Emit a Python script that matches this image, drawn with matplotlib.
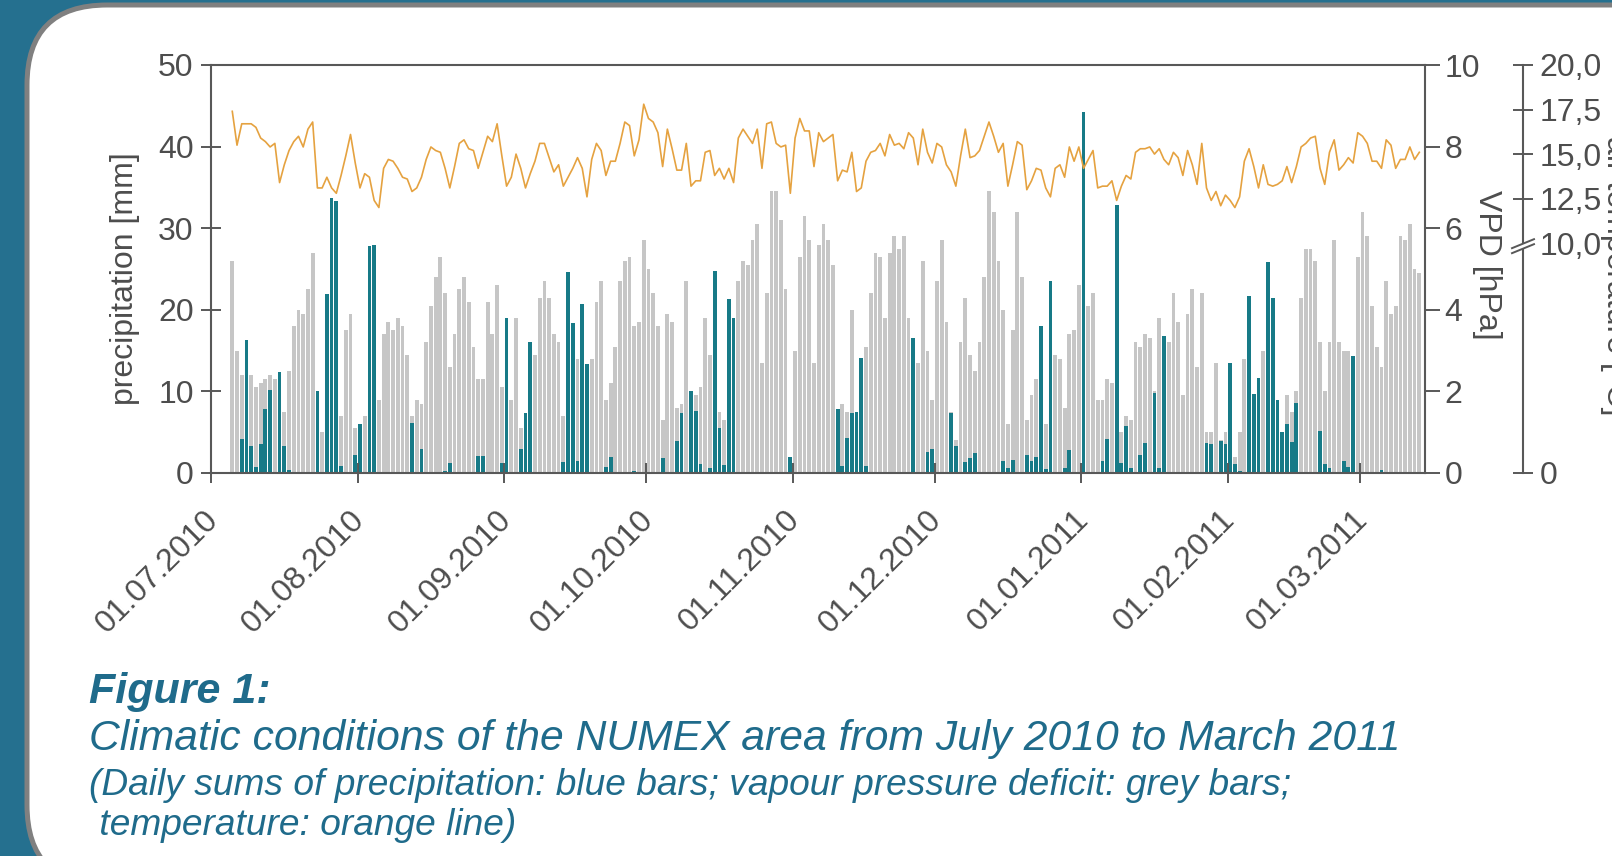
import numpy as np
import pandas as pd
import matplotlib
matplotlib.use('Agg')
import matplotlib.pyplot as plt
import matplotlib.dates as mdates
from matplotlib.patches import FancyBboxPatch, Polygon
from matplotlib.transforms import ScaledTranslation

plt.rcParams['font.family'] = ['Liberation Sans', 'DejaVu Sans']

# daily values, first day 05.07.2010
start_day = '2010-07-05'

# daily precipitation sums [mm] (blue bars)
precip = [
    0, 0, 4.2, 16.3, 3.3, 0.7, 3.5, 7.8, 10.2, 0,
    12.4, 3.3, 0.4, 0, 0, 0, 0, 0, 10.0, 0,
    21.9, 33.7, 33.3, 0.9, 0, 0, 2.2, 6.0, 0, 27.8,
    28.0, 0, 0, 0, 0, 0, 0, 0, 6.1, 0,
    3.0, 0, 0, 0, 0, 0.3, 1.2, 0, 0, 0,
    0, 0, 2.1, 2.1, 0, 0, 0, 1.2, 19.0, 0,
    0, 2.9, 7.3, 16.0, 0, 0, 0, 0, 0, 0,
    1.3, 24.6, 18.4, 1.5, 20.7, 13.3, 0, 0, 0, 0.7,
    2.0, 0, 0, 0, 0, 0.3, 0, 0, 0, 0,
    0, 1.8, 0, 0, 3.9, 7.3, 0, 10.1, 7.6, 1.1,
    0, 0.6, 24.7, 5.5, 1.0, 21.3, 19.0, 0, 0, 0,
    0, 0, 0, 0, 0, 0, 0, 0, 2.0, 0,
    0, 0, 0, 0, 0, 0, 0, 0, 7.8, 0.8,
    4.3, 7.3, 7.5, 14.1, 0.8, 0, 0, 0, 0, 0,
    0, 0, 0, 0, 16.6, 0, 0, 2.6, 2.9, 0,
    0, 0, 7.4, 3.3, 0, 1.3, 1.8, 2.4, 0, 0,
    0, 0, 0, 1.5, 0.6, 1.6, 0, 0, 2.2, 1.5,
    1.9, 18.0, 0.5, 23.5, 0, 0, 0.6, 2.8, 0, 0,
    44.2, 0, 0, 0, 1.5, 4.2, 0, 32.9, 1.2, 5.8,
    0.6, 0, 2.2, 3.7, 0, 9.8, 0.6, 16.8, 0, 0,
    0, 0, 0, 0, 0, 0, 3.7, 3.6, 0, 3.9,
    3.6, 13.5, 1.1, 0.3, 0, 21.7, 9.7, 11.7, 0, 25.8,
    21.4, 9.0, 5.0, 6.0, 3.8, 8.6, 0, 0, 0, 0,
    5.2, 1.1, 0.6, 0, 0, 1.5, 0.7, 14.3, 0, 0,
    0, 0, 0, 0.4, 0, 0, 0, 0, 0, 0,
    0, 0]

# vapour pressure deficit [hPa] (grey bars)
vpd = [
    5.2, 3.0, 2.4, 2.4, 2.4, 2.1, 2.2, 2.3, 2.4, 2.3,
    1.5, 1.5, 2.5, 3.6, 4.0, 3.9, 4.5, 5.4, 1.8, 1.0,
    1.5, 1.3, 1.3, 1.4, 3.5, 3.9, 1.1, 1.2, 1.4, 1.5,
    1.6, 1.8, 3.4, 3.7, 3.5, 3.8, 3.6, 2.9, 1.4, 1.8,
    1.7, 3.2, 4.1, 4.8, 5.3, 4.4, 2.6, 3.4, 4.5, 4.8,
    4.2, 3.1, 2.3, 2.3, 4.2, 3.4, 4.6, 2.1, 1.5, 1.8,
    3.8, 1.1, 1.2, 1.5, 2.9, 4.3, 4.7, 4.3, 3.4, 3.2,
    1.4, 1.5, 1.5, 2.8, 1.5, 1.8, 2.8, 4.2, 4.7, 1.8,
    2.2, 3.1, 4.7, 5.2, 5.3, 3.6, 3.7, 5.7, 5.0, 4.4,
    3.6, 1.3, 3.9, 3.7, 1.6, 1.7, 4.7, 2.0, 1.9, 2.1,
    3.8, 2.9, 1.8, 1.5, 1.3, 1.5, 1.6, 4.7, 5.2, 5.1,
    5.7, 6.1, 2.7, 4.4, 6.9, 6.9, 6.2, 4.5, 0.3, 3.0,
    5.3, 6.3, 5.7, 2.7, 5.6, 6.1, 5.7, 5.1, 1.5, 1.7,
    1.5, 4.0, 1.5, 2.0, 3.1, 4.4, 5.4, 5.3, 3.8, 5.4,
    5.8, 5.5, 5.8, 3.8, 2.0, 2.7, 5.2, 3.0, 1.8, 4.7,
    5.7, 3.7, 1.5, 0.8, 3.2, 4.3, 2.9, 2.5, 3.2, 4.8,
    6.9, 6.4, 5.2, 4.0, 1.2, 3.5, 6.4, 4.8, 1.3, 1.9,
    2.3, 1.8, 1.2, 1.5, 2.9, 2.8, 1.6, 3.4, 3.5, 4.6,
    2.0, 4.1, 4.4, 1.8, 1.8, 2.3, 2.2, 1.5, 1.0, 1.4,
    1.3, 3.2, 3.1, 3.4, 3.3, 2.0, 3.8, 2.5, 3.2, 4.4,
    3.7, 1.9, 3.9, 4.5, 2.6, 4.4, 1.0, 1.0, 2.7, 0.8,
    1.0, 1.0, 0.4, 1.0, 2.8, 1.5, 1.8, 2.0, 3.0, 1.5,
    1.5, 1.5, 1.0, 1.9, 1.5, 2.0, 4.3, 5.5, 5.5, 5.2,
    3.2, 2.0, 3.2, 5.7, 3.2, 3.0, 3.0, 2.0, 5.3, 6.4,
    5.8, 4.1, 3.1, 2.6, 4.7, 3.9, 4.1, 5.8, 5.7, 6.1,
    5.0, 4.9]

# daily mean air temperature [°C] (orange line)
temp = [
    17.4, 15.5, 16.7, 16.7, 16.7, 16.5, 15.9, 15.7, 15.4, 15.6,
    13.4, 14.4, 15.2, 15.7, 16.0, 15.4, 16.4, 16.8, 13.1, 13.1,
    13.7, 13.1, 12.8, 13.8, 14.9, 16.1, 14.5, 13.1, 13.9, 13.7,
    12.4, 12.0, 14.2, 14.7, 14.6, 14.2, 13.7, 13.6, 12.9, 13.1,
    13.7, 14.7, 15.4, 15.2, 15.1, 14.2, 13.1, 14.3, 15.6, 15.8,
    15.3, 15.2, 14.2, 15.1, 16.0, 15.7, 16.7, 14.9, 13.2, 13.7,
    15.0, 14.2, 13.1, 13.9, 14.6, 15.6, 15.6, 14.8, 14.0, 14.4,
    13.2, 13.7, 14.2, 14.8, 14.2, 12.6, 14.7, 15.6, 15.2, 13.8,
    14.6, 14.6, 15.6, 16.8, 16.6, 14.9, 15.8, 17.8, 17.0, 16.8,
    16.2, 14.3, 16.4, 15.3, 14.1, 14.1, 15.6, 13.2, 13.5, 13.5,
    15.1, 15.2, 13.8, 14.2, 13.6, 14.2, 13.4, 15.9, 16.4, 16.0,
    15.6, 16.4, 14.2, 16.7, 16.8, 15.6, 15.4, 15.5, 12.8, 15.9,
    17.0, 16.3, 16.3, 14.3, 16.2, 15.7, 15.9, 16.1, 13.5, 14.1,
    14.0, 15.1, 12.9, 13.1, 14.6, 15.1, 15.2, 15.6, 14.9, 16.1,
    15.5, 15.6, 15.3, 16.2, 15.9, 14.4, 16.4, 15.1, 14.5, 15.6,
    15.4, 14.4, 14.0, 13.2, 14.9, 16.4, 14.8, 14.9, 15.2, 16.0,
    16.8, 16.0, 15.1, 15.6, 13.2, 14.4, 15.7, 15.5, 13.0, 13.5,
    14.2, 14.1, 13.1, 12.6, 14.2, 14.4, 13.7, 15.4, 14.6, 15.4,
    14.2, 14.7, 15.2, 13.1, 13.2, 13.2, 13.5, 12.4, 13.2, 13.8,
    13.6, 15.1, 15.3, 15.3, 15.4, 15.0, 15.3, 14.7, 14.4, 15.1,
    14.8, 13.8, 15.2, 14.4, 13.3, 15.6, 13.1, 12.4, 12.9, 12.1,
    12.7, 12.4, 12.0, 12.6, 14.6, 15.3, 14.3, 13.1, 14.4, 13.3,
    13.2, 13.3, 13.5, 14.3, 13.4, 14.3, 15.4, 15.6, 15.9, 16.0,
    14.2, 13.3, 15.1, 15.8, 14.1, 14.4, 14.8, 14.5, 16.2, 16.0,
    15.6, 14.6, 14.6, 14.2, 15.8, 15.5, 14.2, 14.7, 14.7, 15.4,
    14.7, 15.1]

temp_ticks = [10, 12.5, 15, 17.5, 20]
temp_labels = ['10,0', '12,5', '15,0', '17,5', '20,0']

W, H = 1612, 856
teal = '#25708f'
spine_c = '#585858'
txt_c = '#4d4d4d'
cap_c = '#1f6b8b'


def fx(px):
    return px / W


def fy(py):
    return 1 - py / H


fig = plt.figure(figsize=(W / 100, H / 100), dpi=100, facecolor=teal)

# white rounded panel
bg = fig.add_axes([0, 0, 1, 1])
bg.set_xlim(0, W)
bg.set_ylim(H, 0)
bg.axis('off')
bg.add_patch(FancyBboxPatch((27, 5), 1700, 880, boxstyle='round,pad=0,rounding_size=80',
                            fc='white', ec='#808080', lw=3.6))

ax = fig.add_axes([fx(211), fy(473), 1214 / W, 408 / H])
ax2 = ax.twinx()
ax3 = ax.twinx()
ax2.set_zorder(1)
ax.set_zorder(2)
ax3.set_zorder(3)
for a in (ax, ax2, ax3):
    a.patch.set_visible(False)

x = mdates.date2num(pd.date_range(start_day, periods=len(precip))) + 0.5
ax2.bar(x, vpd, width=0.8, color='#c6c6c6')
ax.bar(x, precip, width=0.8, color='#177a87')
ax3.plot(x, temp, color='#e5a240', lw=1.2)

x0 = mdates.date2num(pd.Timestamp('2010-07-01'))
ax.set_xlim(x0, x0 + 256.7)
ax.set_ylim(0, 50)
ax2.set_ylim(0, 10)
t_bottom = -2.9
ax3.set_ylim(t_bottom, 20)

# spines
for a in (ax2, ax3):
    for s in ('left', 'top', 'bottom'):
        a.spines[s].set_visible(False)
ax.spines['right'].set_visible(False)
ax3.spines['right'].set_position(('axes', 1.0807))
for a in (ax, ax2, ax3):
    for s in a.spines.values():
        s.set_color(spine_c)
        s.set_linewidth(1.5)

# x axis
ax.xaxis.set_major_locator(mdates.MonthLocator())
ax.xaxis.set_major_formatter(mdates.DateFormatter('%d.%m.%Y'))
ax.tick_params(axis='x', direction='inout', length=14, width=1.4, color=spine_c,
               labelsize=23, labelcolor=txt_c, pad=16, labelrotation=45)
shift = ScaledTranslation(-8 / 100, 0, fig.dpi_scale_trans)
for lab in ax.get_xticklabels():
    lab.set_ha('right')
    lab.set_va('top')
    lab.set_rotation_mode('anchor')
    lab.set_transform(lab.get_transform() + shift)

# left axis
ax.set_yticks(range(0, 51, 10))
ax.tick_params(axis='y', direction='inout', length=15, width=1.4, color=spine_c,
               labelsize=23, labelcolor=txt_c, pad=5)
# VPD axis
ax2.set_yticks(range(0, 11, 2))
ax2.tick_params(axis='y', direction='out', length=11, width=1.4, color=spine_c,
                labelsize=23, labelcolor=txt_c, pad=3)
# temperature axis, broken below 10
ax3.set_yticks([t_bottom] + temp_ticks[1:])
ax3.set_yticklabels(['0'] + temp_labels[1:])
ax3.set_yticks([temp_ticks[0]], minor=True)
ax3.set_yticklabels([temp_labels[0]], minor=True)
ax3.tick_params(axis='y', which='major', direction='inout', length=15, width=1.4,
                color=spine_c, labelsize=23, labelcolor=txt_c, pad=4.5)
ax3.tick_params(axis='y', which='minor', length=0, labelsize=23, labelcolor=txt_c, pad=12)

# break mark on temperature axis (at 10 °C)
yb = H - ax3.transData.transform((0, 10))[1]
ov = fig.add_axes([0, 0, 1, 1], zorder=20)
ov.set_xlim(0, W)
ov.set_ylim(H, 0)
ov.axis('off')
ov.patch.set_visible(False)
ov.add_patch(Polygon([(1512, yb + 5), (1534, yb - 4), (1534, yb + 1), (1512, yb + 10)],
                     closed=True, fc='white', ec='none'))
ov.plot([1512, 1534], [yb + 5, yb - 4], color=spine_c, lw=1.4)
ov.plot([1512, 1534], [yb + 10, yb + 1], color=spine_c, lw=1.4)

# axis labels
fig.text(fx(125), fy(279), 'precipitation [mm]', rotation=90, ha='center', va='center',
         fontsize=23, color=txt_c)
fig.text(fx(1487), fy(265), 'VPD [hPa]', rotation=270, ha='center', va='center',
         fontsize=23, color=txt_c)
fig.text(fx(1600), fy(276), 'air temperature [°C]', rotation=270, ha='left', va='center',
         fontsize=23, color=txt_c)

# caption
fig.text(fx(89), fy(703), 'Figure 1:', fontsize=31, fontweight='bold', fontstyle='italic',
         color=cap_c, va='baseline')
fig.text(fx(89), fy(750), 'Climatic conditions of the NUMEX area from July 2010 to March 2011',
         fontsize=30.7, fontstyle='italic', color=cap_c, va='baseline')
fig.text(fx(89), fy(795), '(Daily sums of precipitation: blue bars; vapour pressure deficit: grey bars;',
         fontsize=26.7, fontstyle='italic', color=cap_c, va='baseline')
fig.text(fx(89), fy(835), ' temperature: orange line)',
         fontsize=26.7, fontstyle='italic', color=cap_c, va='baseline')

fig.savefig('out.png', dpi=100, facecolor=teal)
